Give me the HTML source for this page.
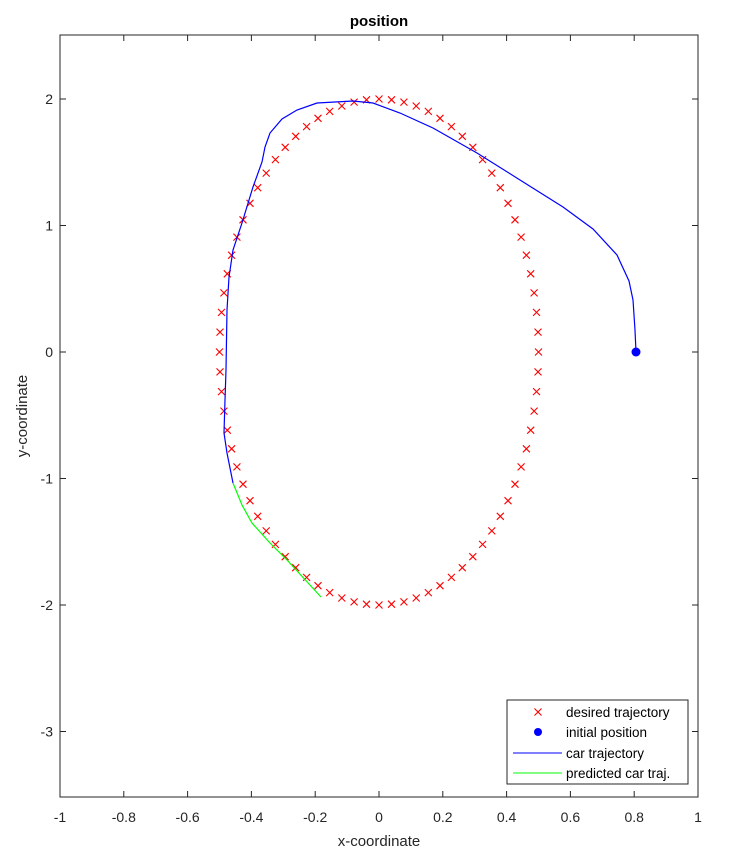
<!DOCTYPE html><html><head><style>body{margin:0;background:#fff}svg{display:block}text{font-family:"Liberation Sans",Arial,sans-serif}</style></head><body>
<svg width="732" height="858" xmlns="http://www.w3.org/2000/svg" xmlns:xlink="http://www.w3.org/1999/xlink">
<defs><path id="m" d="M-3.5,-3.5L3.5,3.5M3.5,-3.5L-3.5,3.5" stroke="#f00" stroke-width="1.1" fill="none"/></defs>
<rect width="732" height="858" fill="#fff"/>
<rect x="60" y="35" width="638" height="762" fill="#fff" stroke="#262626" stroke-width="1"/>
<g stroke="#262626" stroke-width="1">
<path d="M60,797v-6M123.8,797v-6M187.6,797v-6M251.4,797v-6M315.2,797v-6M379,797v-6M442.8,797v-6M506.6,797v-6M570.4,797v-6M634.2,797v-6M698,797v-6M60,35v6M123.8,35v6M187.6,35v6M251.4,35v6M315.2,35v6M379,35v6M442.8,35v6M506.6,35v6M570.4,35v6M634.2,35v6M698,35v6"/>
<path d="M60,731.5h6M60,605h6M60,478.5h6M60,352h6M60,225.5h6M60,99h6M698,731.5h-6M698,605h-6M698,478.5h-6M698,352h-6M698,225.5h-6M698,99h-6"/>
</g>
<g font-size="14" fill="#262626" text-anchor="middle">
<text x="60" y="822">-1</text><text x="123.8" y="822">-0.8</text><text x="187.6" y="822">-0.6</text><text x="251.4" y="822">-0.4</text><text x="315.2" y="822">-0.2</text><text x="379" y="822">0</text><text x="442.8" y="822">0.2</text><text x="506.6" y="822">0.4</text><text x="570.4" y="822">0.6</text><text x="634.2" y="822">0.8</text><text x="698" y="822">1</text>
</g>
<g font-size="14" fill="#262626" text-anchor="end">
<text x="53" y="736.5">-3</text><text x="53" y="610">-2</text><text x="53" y="483.5">-1</text><text x="53" y="357">0</text><text x="53" y="230.5">1</text><text x="53" y="104">2</text>
</g>
<g>
<use xlink:href="#m" x="379" y="99"/><use xlink:href="#m" x="379" y="605"/><use xlink:href="#m" x="538.5" y="352"/><use xlink:href="#m" x="219.5" y="352"/>
<use xlink:href="#m" x="391.5" y="99.8"/><use xlink:href="#m" x="366.5" y="99.8"/><use xlink:href="#m" x="391.5" y="604.2"/><use xlink:href="#m" x="366.5" y="604.2"/>
<use xlink:href="#m" x="403.9" y="102.1"/><use xlink:href="#m" x="354.1" y="102.1"/><use xlink:href="#m" x="403.9" y="601.9"/><use xlink:href="#m" x="354.1" y="601.9"/>
<use xlink:href="#m" x="416.2" y="106"/><use xlink:href="#m" x="341.8" y="106"/><use xlink:href="#m" x="416.2" y="598"/><use xlink:href="#m" x="341.8" y="598"/>
<use xlink:href="#m" x="428.3" y="111.4"/><use xlink:href="#m" x="329.7" y="111.4"/><use xlink:href="#m" x="428.3" y="592.6"/><use xlink:href="#m" x="329.7" y="592.6"/>
<use xlink:href="#m" x="440" y="118.3"/><use xlink:href="#m" x="318" y="118.3"/><use xlink:href="#m" x="440" y="585.7"/><use xlink:href="#m" x="318" y="585.7"/>
<use xlink:href="#m" x="451.4" y="126.6"/><use xlink:href="#m" x="306.6" y="126.6"/><use xlink:href="#m" x="451.4" y="577.4"/><use xlink:href="#m" x="306.6" y="577.4"/>
<use xlink:href="#m" x="462.3" y="136.3"/><use xlink:href="#m" x="295.7" y="136.3"/><use xlink:href="#m" x="462.3" y="567.7"/><use xlink:href="#m" x="295.7" y="567.7"/>
<use xlink:href="#m" x="472.8" y="147.3"/><use xlink:href="#m" x="285.2" y="147.3"/><use xlink:href="#m" x="472.8" y="556.7"/><use xlink:href="#m" x="285.2" y="556.7"/>
<use xlink:href="#m" x="482.6" y="159.6"/><use xlink:href="#m" x="275.4" y="159.6"/><use xlink:href="#m" x="482.6" y="544.4"/><use xlink:href="#m" x="275.4" y="544.4"/>
<use xlink:href="#m" x="491.8" y="173.1"/><use xlink:href="#m" x="266.2" y="173.1"/><use xlink:href="#m" x="491.8" y="530.9"/><use xlink:href="#m" x="266.2" y="530.9"/>
<use xlink:href="#m" x="500.3" y="187.7"/><use xlink:href="#m" x="257.7" y="187.7"/><use xlink:href="#m" x="500.3" y="516.3"/><use xlink:href="#m" x="257.7" y="516.3"/>
<use xlink:href="#m" x="508" y="203.3"/><use xlink:href="#m" x="250" y="203.3"/><use xlink:href="#m" x="508" y="500.7"/><use xlink:href="#m" x="250" y="500.7"/>
<use xlink:href="#m" x="515" y="219.8"/><use xlink:href="#m" x="243" y="219.8"/><use xlink:href="#m" x="515" y="484.2"/><use xlink:href="#m" x="243" y="484.2"/>
<use xlink:href="#m" x="521.1" y="237.1"/><use xlink:href="#m" x="236.9" y="237.1"/><use xlink:href="#m" x="521.1" y="466.9"/><use xlink:href="#m" x="236.9" y="466.9"/>
<use xlink:href="#m" x="526.4" y="255.2"/><use xlink:href="#m" x="231.6" y="255.2"/><use xlink:href="#m" x="526.4" y="448.8"/><use xlink:href="#m" x="231.6" y="448.8"/>
<use xlink:href="#m" x="530.7" y="273.8"/><use xlink:href="#m" x="227.3" y="273.8"/><use xlink:href="#m" x="530.7" y="430.2"/><use xlink:href="#m" x="227.3" y="430.2"/>
<use xlink:href="#m" x="534.1" y="292.9"/><use xlink:href="#m" x="223.9" y="292.9"/><use xlink:href="#m" x="534.1" y="411.1"/><use xlink:href="#m" x="223.9" y="411.1"/>
<use xlink:href="#m" x="536.5" y="312.4"/><use xlink:href="#m" x="221.5" y="312.4"/><use xlink:href="#m" x="536.5" y="391.6"/><use xlink:href="#m" x="221.5" y="391.6"/>
<use xlink:href="#m" x="538" y="332.1"/><use xlink:href="#m" x="220" y="332.1"/><use xlink:href="#m" x="538" y="371.9"/><use xlink:href="#m" x="220" y="371.9"/>
</g>
<polyline fill="none" stroke="#00f" stroke-width="1.2" points="636,352 635,330 633,300 629,281 617,255 593,229 563,207 520,180 477,153 433,128 400,113 373,103 353,101 317,103 297,110 282,119 270,133 265,147 262,162 253,187 242,223 233,250 229,277 227,310 226,370 225,400 224,433 227,453 233,483"/>
<polyline fill="none" stroke="#0f0" stroke-width="1.2" points="233,483 242,505 252,523 270,543 287,560 321,597"/>
<circle cx="636" cy="352" r="4.5" fill="#00f"/>
<text x="379" y="26" font-size="15" font-weight="bold" text-anchor="middle" fill="#000">position</text>
<text x="379" y="846" font-size="15" text-anchor="middle" fill="#262626">x-coordinate</text>
<text transform="translate(27,416) rotate(-90)" font-size="15" text-anchor="middle" fill="#262626">y-coordinate</text>
<rect x="507" y="700" width="181" height="84" fill="#fff" stroke="#262626"/>
<use xlink:href="#m" x="538" y="712"/>
<circle cx="538" cy="732" r="4" fill="#00f"/>
<line x1="513" y1="753" x2="562" y2="753" stroke="#00f"/>
<line x1="513" y1="773" x2="562" y2="773" stroke="#0f0"/>
<g font-size="13.5" fill="#000"><text x="566" y="717">desired trajectory</text><text x="566" y="737">initial position</text><text x="566" y="758">car trajectory</text><text x="566" y="778">predicted car traj.</text></g>
</svg></body></html>
